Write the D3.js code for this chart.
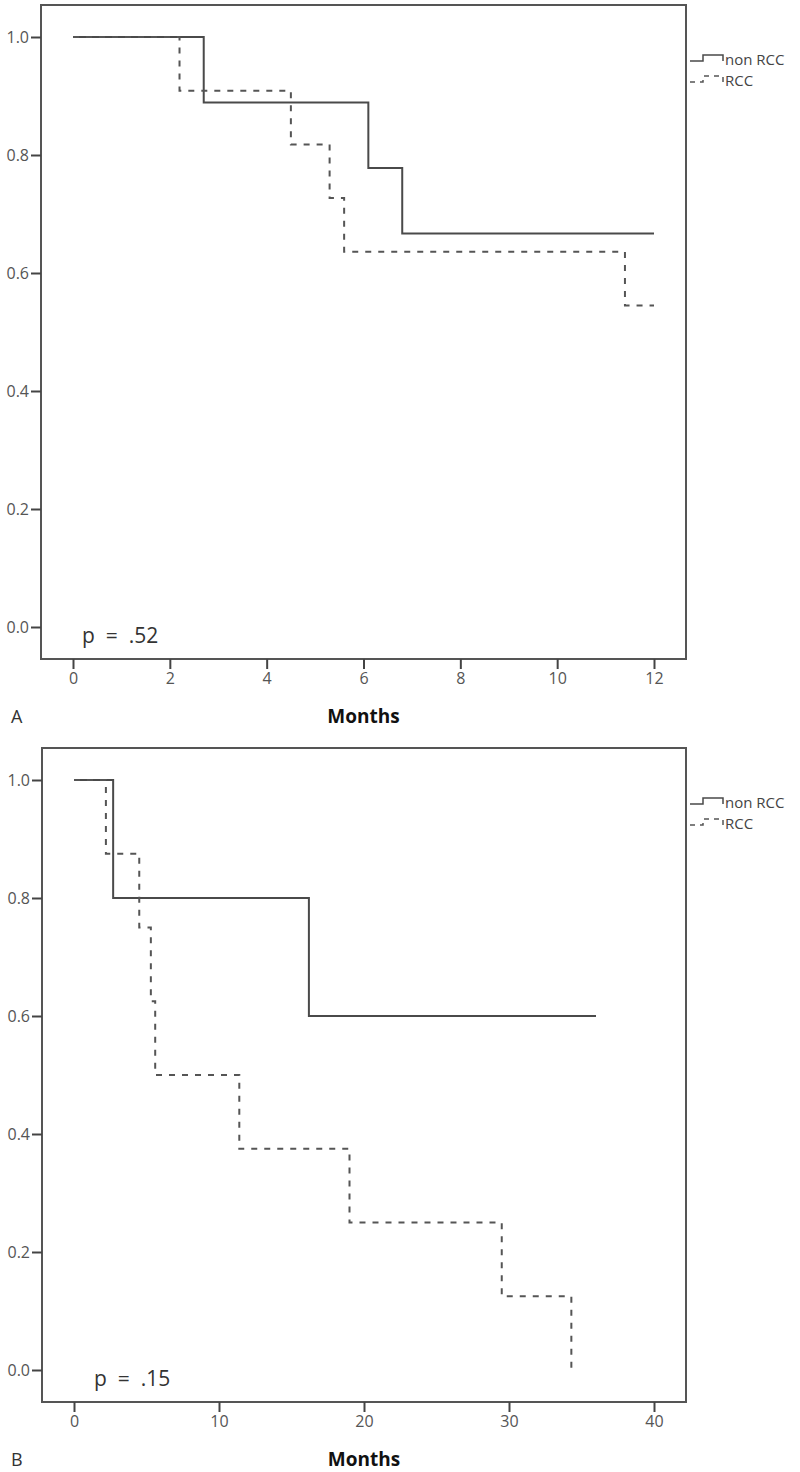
<!DOCTYPE html>
<html>
<head>
<meta charset="utf-8">
<script src="https://cdn.jsdelivr.net/npm/d3@7"></script>
<style>
  body { margin: 0; background: #fff; }
  text { font-family: "Open Sans", "DejaVu Sans", sans-serif; }
</style>
</head>
<body>
<div id="chart"></div>
<script>
// Panel A (12 months)
const monthsA = [0, 2, 4, 6, 8, 10, 12];
const nonRccTimeA = [0, 2.7, 6.1, 6.8, 12];
const nonRccSurvA = [1, 0.889, 0.778, 0.667, 0.667];
const rccTimeA = [0, 2.2, 4.5, 5.3, 5.6, 11.4, 12];
const rccSurvA = [1, 0.909, 0.818, 0.727, 0.636, 0.545, 0.545];

// Panel B (40 months)
const monthsB = [0, 10, 20, 30, 40];
const nonRccTimeB = [0, 2.7, 16.2, 36];
const nonRccSurvB = [1, 0.8, 0.6, 0.6];
const rccTimeB = [0, 2.2, 4.5, 5.3, 5.6, 11.4, 19.0, 29.5, 34.3];
const rccSurvB = [1, 0.875, 0.75, 0.625, 0.5, 0.375, 0.25, 0.125, 0];

const survTicks = [0, 0.2, 0.4, 0.6, 0.8, 1.0];
const groups = ['non RCC', 'RCC'];

const width = 800, height = 1472;
const ink = '#4a4a4a';

const svg = d3.select('#chart').append('svg')
  .attr('width', width)
  .attr('height', height);

function drawPanel(opt) {
  const f = opt.frame;
  const pad = 32;
  const x = d3.scaleLinear().domain(opt.xDomain).range([f.x0 + pad, f.x1 - pad]);
  const y = d3.scaleLinear().domain([0, 1]).range([f.y1 - pad, f.y0 + pad]);

  const g = svg.append('g');

  // frame
  g.append('rect')
    .attr('x', f.x0).attr('y', f.y0)
    .attr('width', f.x1 - f.x0).attr('height', f.y1 - f.y0)
    .attr('fill', 'none').attr('stroke', '#555').attr('stroke-width', 2);

  const yAxis = g.append('g')
    .attr('transform', `translate(${f.x0},0)`)
    .call(d3.axisLeft(y).tickValues(survTicks).tickFormat(d3.format('.1f')).tickSize(10).tickPadding(2));
  const xAxis = g.append('g')
    .attr('transform', `translate(0,${f.y1})`)
    .call(d3.axisBottom(x).tickValues(opt.ticks).tickFormat(d3.format('d')).tickSize(10).tickPadding(4));

  [yAxis, xAxis].forEach(a => {
    a.select('.domain').remove();
    a.selectAll('.tick line').attr('stroke', '#444').attr('stroke-width', 2);
    a.selectAll('.tick text').attr('fill', '#555').style('font-size', '16px');
  });

  const line = d3.line()
    .x(d => x(d[0]))
    .y(d => y(d[1]))
    .curve(d3.curveStepAfter);

  g.append('path')
    .datum(d3.zip(opt.nonRccTime, opt.nonRccSurv))
    .attr('d', line)
    .attr('fill', 'none').attr('stroke', ink).attr('stroke-width', 2);

  g.append('path')
    .datum(d3.zip(opt.rccTime, opt.rccSurv))
    .attr('d', line)
    .attr('fill', 'none').attr('stroke', '#555').attr('stroke-width', 2)
    .attr('stroke-dasharray', '6,7');

  // legend
  const lg = g.append('g').attr('transform', `translate(${f.x1 + 4},${f.y0 + 50})`);
  groups.forEach((name, i) => {
    const yy = i * 21;
    lg.append('path')
      .attr('d', `M0,${yy + 6}H13V${yy}H33V${yy + 6}`)
      .attr('fill', 'none')
      .attr('stroke', i == 0 ? ink : '#555')
      .attr('stroke-width', 1.5)
      .attr('stroke-dasharray', i == 0 ? null : '5,5');
    lg.append('text')
      .attr('x', 35)
      .attr('y', yy + 10)
      .attr('fill', '#444')
      .style('font-size', '15px')
      .text(name);
  });

  // p value
  g.append('text')
    .attr('x', opt.pX)
    .attr('y', f.y1 - 16)
    .attr('fill', '#333')
    .style('font-size', '21px')
    .attr('xml:space', 'preserve')
    .text(opt.pText);

  // x title
  g.append('text')
    .attr('x', (x.range()[0] + x.range()[1]) / 2)
    .attr('y', f.y1 + 64)
    .attr('text-anchor', 'middle')
    .attr('fill', '#111')
    .style('font-size', '19px')
    .style('font-weight', 'bold')
    .text('Months');

  // panel letter
  g.append('text')
    .attr('x', 11)
    .attr('y', f.y1 + 64)
    .attr('fill', '#333')
    .style('font-size', '18px')
    .text(opt.letter);
}

drawPanel({
  frame: {x0: 41, x1: 686, y0: 5, y1: 659},
  xDomain: [0, 12],
  ticks: monthsA,
  nonRccTime: nonRccTimeA, nonRccSurv: nonRccSurvA,
  rccTime: rccTimeA, rccSurv: rccSurvA,
  pText: 'p  =  .52', pX: 82, letter: 'A'
});

drawPanel({
  frame: {x0: 42, x1: 686, y0: 748, y1: 1402},
  xDomain: [0, 40],
  ticks: monthsB,
  nonRccTime: nonRccTimeB, nonRccSurv: nonRccSurvB,
  rccTime: rccTimeB, rccSurv: rccSurvB,
  pText: 'p  =  .15', pX: 94, letter: 'B'
});
</script>
</body>
</html>
